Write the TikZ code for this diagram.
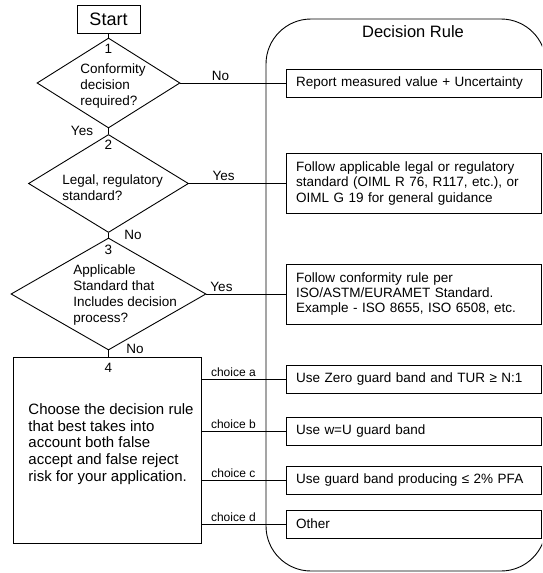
\documentclass[tikz,border=0pt]{standalone}
\usepackage{fontspec}
\setmainfont{Liberation Sans}
\usetikzlibrary{shapes.geometric}
\begin{document}
\begin{tikzpicture}[x=1pt, y=-1pt, line width=0.9pt,
  every node/.style={font=\fontsize{13.5}{16.3}\selectfont},
  decide/.style={diamond, draw, inner sep=0pt},
  question/.style={align=left, inner sep=0pt, anchor=west},
  rulebox/.style={rectangle, draw, minimum height=28pt, text width=235pt, inner xsep=10pt, align=left, font=\fontsize{13.5}{15.2}\selectfont},
  choice/.style={font=\fontsize{12}{14}\selectfont, inner sep=1.5pt, above, pos=0.38}]
\clip (0,0) rectangle (542,573);
\node [rectangle, draw, minimum width=63pt, minimum height=28pt, inner sep=0pt, font=\fontsize{18}{20}\selectfont] (start) at (108.5,19) {Start};
\node [decide, minimum width=143pt, minimum height=90pt] (d1) at (108.5,83) {};
\node (n1) at (108.5,49) {1};
\node [question] (q1) at (80,86) {Conformity\\decision\\required?};
\node [decide, minimum width=160pt, minimum height=98pt] (d2) at (108.5,183.5) {};
\node (n2) at (108.5,145) {2};
\node [question] (q2) at (62,188) {Legal, regulatory\\standard?};
\node [decide, minimum width=195pt, minimum height=112pt] (d3) at (108.5,294) {};
\node (n3) at (108.5,250) {3};
\node [question] (q3) at (73,295) {Applicable\\Standard that\\Includes decision\\process?};
\node [rectangle, draw, minimum width=188pt, minimum height=186pt] (box4) at (107,450) {};
\node (n4) at (108.5,368) {4};
\node [question, font=\fontsize{15}{16.7}\selectfont] (q4) at (28,444) {Choose the decision rule\\that best takes into\\account both false\\accept and false reject\\risk for your application.};
\node [draw, rounded corners=45pt, minimum width=280pt, minimum height=552pt] (rules) at (406,295) {};
\node [font=\fontsize{16.5}{18}\selectfont] (title) at (413,32) {Decision Rule};
\node [rulebox] (ra) at (413.5,83) {Report measured value + Uncertainty};
\node [rulebox, minimum height=60pt] (rb) at (413.5,183.5) {Follow applicable legal or regulatory\\standard (OIML R 76, R117, etc.), or\\OIML G 19 for general guidance};
\node [rulebox, minimum height=60pt] (rc) at (413.5,294) {Follow conformity rule per\\ISO/ASTM/EURAMET Standard.\\Example - ISO 8655, ISO 6508, etc.};
\node [rulebox] (rd) at (413.5,379) {Use Zero guard band and TUR ≥ N:1};
\node [rulebox] (re) at (413.5,431) {Use w=U guard band};
\node [rulebox] (rf) at (413.5,480) {Use guard band producing ≤ 2\% PFA};
\node [rulebox] (rg) at (413.5,524) {Other};
\node (yes1) at (82,131) {Yes};
\node (no2) at (133,235) {No};
\node (no3) at (135,349) {No};
\draw (start.south) -- (d1.north);
\draw (d1.south) -- (d2.north);
\draw (d2.south) -- (d3.north);
\draw (d3.south) -- (d3.south |- box4.north);
\draw (d1.east) -- node [pos=0.38, above, inner sep=2pt] (no1) {No} (ra.west);
\draw (d2.east) -- node [pos=0.36, above, inner sep=2pt] (yes2) {Yes} (rb.west);
\draw (d3.east) -- node [pos=0.19, above, inner sep=2pt] (yes3) {Yes} (rc.west);
\draw (rd.west -| box4.east) -- node [choice] (ca) {choice a} (rd.west);
\draw (re.west -| box4.east) -- node [choice] (cb) {choice b} (re.west);
\draw (rf.west -| box4.east) -- node [choice] (cc) {choice c} (rf.west);
\draw (rg.west -| box4.east) -- node [choice] (cd) {choice d} (rg.west);
\end{tikzpicture}
\end{document}
